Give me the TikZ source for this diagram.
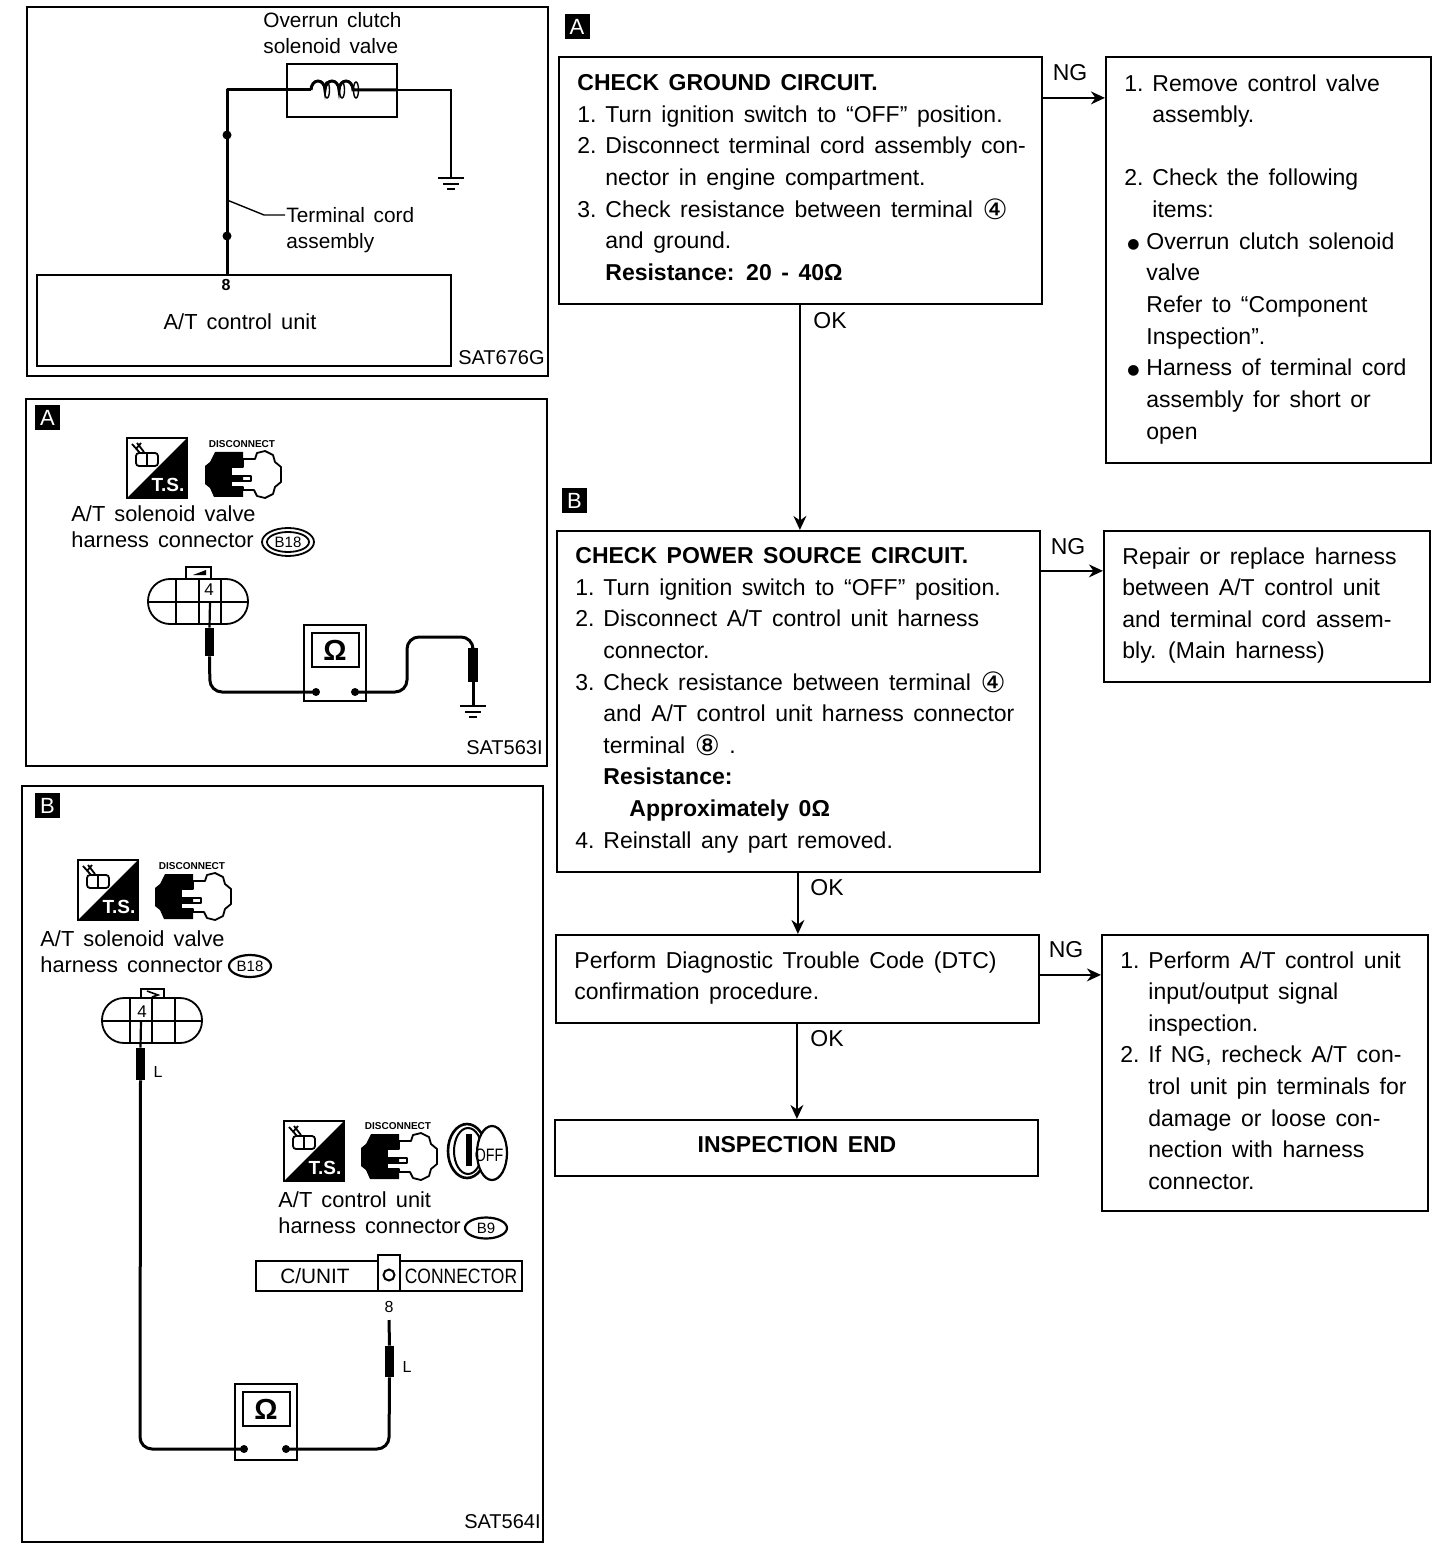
\documentclass[tikz,border=0pt]{standalone}
\usepackage{fontspec}
\usepackage{graphicx}
\setmainfont[WordSpace=1.5]{Liberation Sans}
\newfontfamily\djf{DejaVu Sans}
\usetikzlibrary{arrows.meta,calc,fit,shapes.geometric}
\newlength{\nbw}
\setlength{\nbw}{14pt}
\newcommand{\nb}[1]{\makebox[\nbw][l]{#1}}
\newcommand{\ind}{\hspace*{\nbw}}
\newcommand{\bul}{\makebox[11pt][l]{\hspace{1.5pt}\raisebox{0.6pt}{\djf\fontsize{7}{7}\selectfont ●}}}
\newcommand{\circn}[1]{{\djf\fontsize{14}{14}\selectfont\raisebox{-1pt}{#1}}}
\tikzset{
  x=0.5pt,y=-0.5pt,
  flowbox/.style={draw=black,line width=1.1pt,inner sep=0pt,fill=white},
  panel/.style={draw=black,line width=1.1pt,inner sep=0pt},
  flowtxt/.style={anchor=north west,inner sep=0pt,align=left,font=\fontsize{11.5}{15.82}\selectfont},
  paneltxt/.style={anchor=north west,inner sep=0pt,align=left,font=\fontsize{10.4}{13.2}\selectfont},
  icontxt/.style={anchor=north west,inner sep=0pt,align=left,font=\fontsize{10.9}{13.3}\selectfont},
  plain/.style={inner sep=0pt,font=\fontsize{10.4}{12}\selectfont},
  codetxt/.style={inner sep=0pt,anchor=east,font=\fontsize{10}{12}\selectfont},
  edgelab/.style={inner sep=0pt,font=\fontsize{11.5}{13}\selectfont},
  flowarrow/.style={draw=black,line width=0.8pt,-{Stealth[length=7pt,width=6.5pt]}},
  lab/.style={fill=black,text=white,minimum size=12.5pt,inner sep=0pt,font=\fontsize{11}{12}\selectfont},
  wire/.style={draw=black,line width=1.5pt},
  thinw/.style={draw=black,line width=0.7pt},
  probe/.style={fill=black,draw=none},
  tsicon/.pic={
    \draw[line width=1pt,fill=white] (0,0) rectangle (60,60);
    \fill[black] (60,0) -- (60,60) -- (0,60) -- cycle;
    \node[text=white,inner sep=0pt,font=\bfseries\fontsize{9.5}{9.5}\selectfont] at (41,47) {T.S.};
    \draw[line width=0.9pt,rounded corners=1.5pt,fill=white] (9,15) rectangle (31,28);
    \draw[line width=0.8pt] (20,16) -- (20,27);
    \draw[line width=0.9pt] (5,6) -- (13,15) (10,5) -- (17,14) (14,5) -- (9,11);
  },
  discicon/.pic={
    \node[inner sep=0pt,font=\bfseries\fontsize{5}{5}\selectfont] at (37,4) {DISCONNECT};
    \fill[black] (10,12) -- (38,12) -- (38,57) -- (9,57) -- (5,48) -- (0,44) -- (0,26) -- (5,22) -- cycle;
    \draw[line width=0.9pt,fill=white,line join=round] (38,19) -- (50,19) -- (52,13) -- (60,11) -- (68,15) -- (70,22) -- (76,27) -- (76,42) -- (70,47) -- (68,54) -- (60,58) -- (52,56) -- (49,50) -- (38,50) -- (38,47) -- (26,47) -- (26,41) -- (46,41) -- (46,36) -- (26,36) -- (26,27) -- (38,27) -- cycle;
  },
  connbody/.pic={
    \draw[line width=0.9pt,rounded corners=11pt,fill=white] (0,0) rectangle (100,45);
    \draw[line width=0.9pt] (28,0) -- (28,45) (73,0) -- (73,45);
    \draw[line width=1.1pt] (0,23) -- (100,23);
  },
  ohmmeter/.pic={
    \draw[line width=1.1pt,fill=white] (0,0) rectangle (62,76);
    \draw[line width=1.1pt] (8,8) rectangle (55,42);
    \node[inner sep=0pt,font=\bfseries\fontsize{14.5}{14.5}\selectfont] at (31,25) {Ω};
  },
  groundsym/.pic={
    \draw[line width=1pt] (-13,0) -- (13,0);
    \draw[line width=1pt] (-8,6) -- (8,6);
    \draw[line width=1pt] (-4,11) -- (4,11);
  }
}
\begin{document}
\begin{tikzpicture}
\useasboundingbox (0,0) rectangle (1440,1550);
\fill[white] (0,0) rectangle (1440,1550);

% ---------- Panel 1 ----------
\node[panel,fit={(27,7)(548,376)}] (p1) {};
\node[draw=black,line width=0.9pt,inner sep=0pt,fit={(37,275)(451,366)}] (unit) {};
\node[draw=black,line width=1.2pt,inner sep=0pt,fit={(287,64)(397,117)}] (sol) {};
\coordinate (pin8) at (227,275);
\coordinate (gnd1) at (451,178);
\draw[wire,line join=round] (pin8) -- (227,90) -- (311,90);
\draw[wire] (311,90) arc (180:360:7 and 9) arc (180:360:7 and 9) arc (180:360:7 and 9) -- (372,90)-- (397,90);
\foreach \cx in {327,342,356} \draw[line width=0.7pt] (\cx,90) ellipse (2.5 and 8);
\draw[thinw,line width=1pt] (397,90) -- (451,90) -- (gnd1);
\pic at (gnd1) {groundsym};
\fill (227,135) circle (4.5);
\fill (227,236) circle (4.5);
\draw[thinw] (227,200) -- (264,215) -- (285,215);
\node[paneltxt] (t1) at (263,12) {Overrun clutch\\solenoid valve};
\node[paneltxt] (t2) at (286,207) {Terminal cord\\assembly};
\node[plain,font=\bfseries\fontsize{8}{8}\selectfont] (t3) at (226,285) {8};
\node[plain,font=\fontsize{10.9}{12}\selectfont] (t4) at (240,322) {A/T control unit};
\node[codetxt] (t5) at (545,358) {SAT676G};

% ---------- Panel A ----------
\node[panel,fit={(26,399)(547,766)}] (p2) {};
\node[lab] (la) at (47.5,418) {A};
\pic at (127,438) {tsicon};
\pic at (205,440) {discicon};
\node[icontxt] (t6) at (71,505) {A/T solenoid valve\\harness connector};
\node[draw=black,line width=0.9pt,ellipse,minimum width=26pt,minimum height=14pt,inner sep=0pt] (o1) at (288,542) {};
\node[draw=black,line width=0.9pt,ellipse,minimum width=21pt,minimum height=10pt,inner sep=0pt,font=\fontsize{7.5}{8}\selectfont] (o1b) at (288,542) {B18};
\draw[line width=1pt,fill=white] (186,567) rectangle (211,579);
\fill (193,575) -- (206,570) -- (206,575) -- cycle;
\pic at (148,579) {connbody};
\draw[line width=0.9pt] (199,579) -- (199,624);
\node[plain,font=\fontsize{8.5}{9}\selectfont,fill=white,inner sep=0.5pt] (t7) at (209,590) {4};
\node[probe,fit={(205,628)(214,656)},inner sep=0pt] (pr1) {};
\pic at (304,625) {ohmmeter};
\coordinate (md1) at (316,692);
\coordinate (md2) at (355,692);
\fill (md1) circle (4);
\fill (md2) circle (4);
\draw[wire,line width=1.1pt] (210,602) -- (pr1.north);
\draw[wire,rounded corners=6pt] (pr1.south) -- (210,692) -- (md1);
\node[probe,fit={(468,648)(478,682)},inner sep=0pt] (pr2) {};
\draw[wire,rounded corners=6pt] (md2) -- (407,692) -- (407,637) -- (473,637) -- (pr2.north);
\coordinate (gnd2) at (473,706);
\draw[wire] (pr2.south) -- (gnd2);
\pic at (gnd2) {groundsym};
\node[codetxt] (t8) at (543,748) {SAT563I};

% ---------- Panel B ----------
\node[panel,fit={(22,786)(543,1542)}] (p3) {};
\node[lab] (lb) at (47.5,805.5) {B};
\pic at (78,860) {tsicon};
\pic at (155,862) {discicon};
\node[icontxt] (t9) at (40,930) {A/T solenoid valve\\harness connector};
\node[draw=black,line width=1.1pt,ellipse,minimum width=21pt,minimum height=11pt,inner sep=0pt,font=\fontsize{7.5}{8}\selectfont] (o2) at (250,966) {B18};
\draw[line width=1pt,fill=white] (141,989) rectangle (164,998);
\draw[line width=0.8pt] (147,991) -- (158,995) -- (152,997);
\pic at (102,998) {connbody};
\draw[line width=0.9pt] (152,998) -- (152,1043);
\node[plain,font=\fontsize{8.5}{9}\selectfont,fill=white,inner sep=0.5pt] (t10) at (142,1012) {4};
\node[probe,fit={(136,1048)(145,1080)},inner sep=0pt] (pr3) {};
\node[plain,font=\fontsize{8}{8}\selectfont] (t11) at (158,1072) {L};
\pic at (235,1384) {ohmmeter};
\coordinate (md3) at (244,1449);
\coordinate (md4) at (286,1449);
\fill (md3) circle (4);
\fill (md4) circle (4);
\draw[wire,line width=1.1pt] (141,1021) -- (pr3.north);
\draw[wire,rounded corners=6pt] (pr3.south) -- (140,1449) -- (md3);
\node[probe,fit={(385,1346)(394,1377)},inner sep=0pt] (pr4) {};
\draw[wire,rounded corners=6pt] (md4) -- (389,1449) -- (pr4.south);
\draw[wire] (pr4.north) -- (389,1320);
\node[plain,font=\fontsize{8}{8}\selectfont] (t12) at (407,1367) {L};
\node[plain,font=\fontsize{8}{8}\selectfont] (t13) at (389,1307) {8};
\pic at (284,1121) {tsicon};
\pic at (361,1122) {discicon};
% OFF key icon
\begin{scope}[shift={(447,1122)}]
  \draw[line width=1.3pt] (20,29) ellipse (19 and 27);
  \draw[line width=1pt] (21,29) ellipse (14 and 23);
  \draw[line width=1.1pt,fill=white] (45,31) ellipse (15 and 27);
  \fill (19,12) rectangle (25,44);
  \node[inner sep=0pt,font=\fontsize{7.5}{8}\selectfont] (offt) at (42,33) {\scalebox{0.95}[1.2]{OFF}};
\end{scope}
\node[icontxt] (t14) at (278,1191) {A/T control unit\\harness connector};
\node[draw=black,line width=1.1pt,ellipse,minimum width=21pt,minimum height=10.5pt,inner sep=0pt,font=\fontsize{7.5}{8}\selectfont] (o3) at (486,1228) {B9};
\node[draw=black,line width=1pt,inner sep=0pt,fit={(256,1261)(522,1291)}] (cb) {};
\node[draw=black,line width=1.2pt,inner sep=0pt,fill=white,fit={(378,1255)(400,1291)}] (cb2) {};
\draw[line width=1pt] (389,1275) circle (5.5);
\node[plain] (t15) at (315,1276) {C/UNIT};
\node[plain] (t16) at (461,1276) {\scalebox{0.84}[1]{CONNECTOR}};
\node[codetxt] (t17) at (541,1522) {SAT564I};

% ---------- Flow chart ----------
\node[lab] (fa) at (577,26.5) {A};
\node[lab] (fb) at (574.5,500.5) {B};

\node[flowbox,fit={(559,57)(1042,304)}] (b1) {};
\node[flowtxt] (b1t) at (577,74) {\textbf{CHECK GROUND CIRCUIT.}\\
\nb{1.}Turn ignition switch to “OFF” position.\\
\nb{2.}Disconnect terminal cord assembly con-\\
\ind nector in engine compartment.\\
\nb{3.}Check resistance between terminal \circn{④}\\
\ind and ground.\\
\ind\textbf{Resistance: 20 - 40Ω}};

\node[flowbox,fit={(1106,57)(1431,463)}] (r1) {};
\node[flowtxt] (r1t) at (1124,74) {\nb{1.}Remove control valve\\
\ind assembly.\\
\\
\nb{2.}Check the following\\
\ind items:\\
\bul Overrun clutch solenoid\\
\hspace*{11pt}valve\\
\hspace*{11pt}Refer to “Component\\
\hspace*{11pt}Inspection”.\\
\bul Harness of terminal cord\\
\hspace*{11pt}assembly for short or\\
\hspace*{11pt}open};

\node[flowbox,fit={(557,531)(1040,872)}] (b2) {};
\node[flowtxt] (b2t) at (575,547) {\setlength{\nbw}{13pt}\textbf{CHECK POWER SOURCE CIRCUIT.}\\
\nb{1.}Turn ignition switch to “OFF” position.\\
\nb{2.}Disconnect A/T control unit harness\\
\ind connector.\\
\nb{3.}Check resistance between terminal \circn{④}\\
\ind and A/T control unit harness connector\\
\ind terminal \circn{⑧} .\\
\ind\textbf{Resistance:}\\
\ind\hspace*{13pt}\textbf{Approximately 0Ω}\\
\nb{4.}Reinstall any part removed.};

\node[flowbox,fit={(1104,531)(1430,682)}] (r2) {};
\node[flowtxt] (r2t) at (1122,547) {Repair or replace harness\\between A/T control unit\\and terminal cord assem-\\bly. (Main harness)};

\node[flowbox,fit={(556,935)(1039,1023)}] (b3) {};
\node[flowtxt] (b3t) at (574,951) {Perform Diagnostic Trouble Code (DTC)\\confirmation procedure.};

\node[flowbox,fit={(1102,935)(1428,1211)}] (r3) {};
\node[flowtxt] (r3t) at (1120,951) {\nb{1.}Perform A/T control unit\\
\ind input/output signal\\
\ind inspection.\\
\nb{2.}If NG, recheck A/T con-\\
\ind trol unit pin terminals for\\
\ind damage or loose con-\\
\ind nection with harness\\
\ind connector.};

\node[flowbox,fit={(555,1120)(1038,1176)}] (b4) {};
\node[inner sep=0pt,font=\bfseries\fontsize{11.5}{13}\selectfont] (b4t) at (797,1145) {INSPECTION END};

\draw[flowarrow] ($(b1.north east)+(0,42)$) -- ($(r1.north west)+(0,42)$);
\draw[flowarrow] ($(b2.north east)+(0,41)$) -- ($(r2.north west)+(0,41)$);
\draw[flowarrow] ($(b3.north east)+(0,41)$) -- ($(r3.north west)+(0,41)$);
\draw[flowarrow] ($(b1.south west)+(242,0)$) -- ($(b2.north west)+(244,0)$);
\draw[flowarrow] ($(b2.south west)+(242,0)$) -- ($(b3.north west)+(243,0)$);
\draw[flowarrow] ($(b3.south west)+(242,0)$) -- ($(b4.north west)+(243,0)$);

\node[edgelab] (n1) at (1070,73) {NG};
\node[edgelab] (n2) at (1068,547) {NG};
\node[edgelab] (n3) at (1066,950) {NG};
\node[edgelab] (k1) at (830,321) {OK};
\node[edgelab] (k2) at (827,888) {OK};
\node[edgelab] (k3) at (827,1039) {OK};
\end{tikzpicture}
\end{document}
